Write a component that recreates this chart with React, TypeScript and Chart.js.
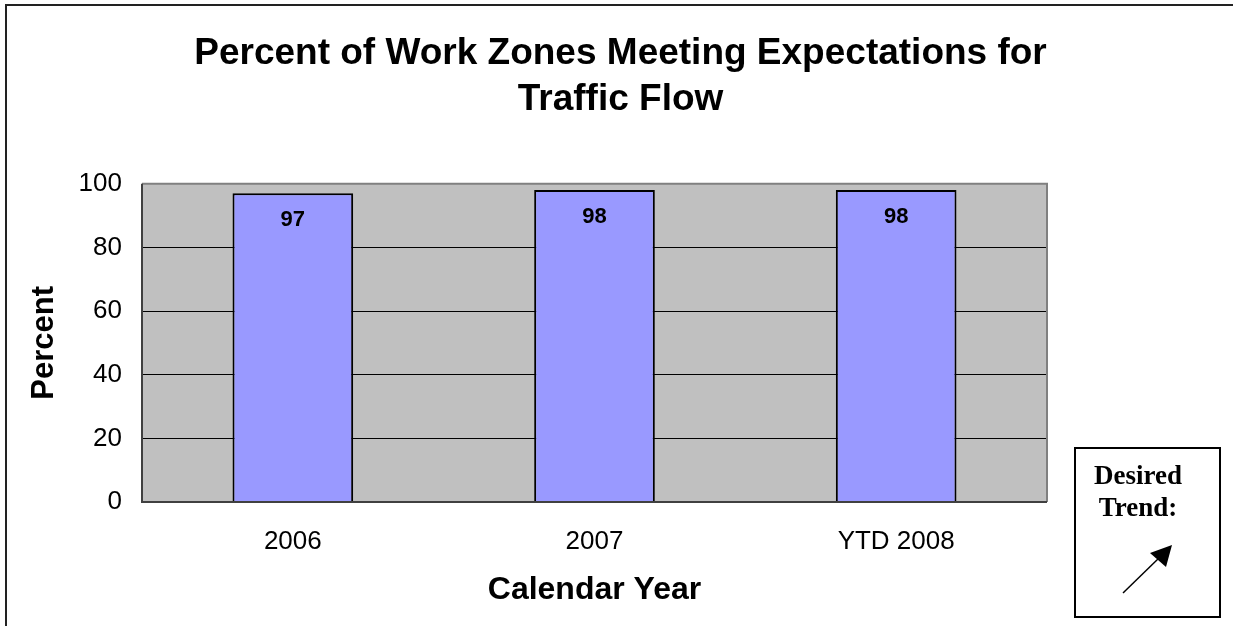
import React, { useEffect, useRef } from "react";
import { Chart, registerables } from "chart.js";

Chart.register(...registerables);

const titleLines = ["Percent of Work Zones Meeting Expectations for", "Traffic Flow"];
const categories = ["2006", "2007", "YTD 2008"];
const values = [97, 98, 98];
const yMin = 0;
const yMax = 100;
const yStep = 20;
const xAxisTitle = "Calendar Year";
const yAxisTitle = "Percent";
const trendLines = ["Desired", "Trend:"];

const W = 1233;
const H = 626;
const SANS = "'Liberation Sans', Arial, sans-serif";

const decorPlugin = {
  id: "decor",
  beforeDraw(chart: any) {
    const { ctx, chartArea } = chart;
    ctx.save();
    ctx.fillStyle = "#C0C0C0";
    ctx.fillRect(chartArea.left, chartArea.top, chartArea.right - chartArea.left, chartArea.bottom - chartArea.top);
    ctx.restore();
  },
  afterDatasetsDraw(chart: any) {
    const { ctx, chartArea } = chart;
    const { left, right, top, bottom } = chartArea;
    ctx.save();
    // plot border
    ctx.strokeStyle = "#808080";
    ctx.lineWidth = 2;
    ctx.beginPath();
    ctx.moveTo(left, top);
    ctx.lineTo(right, top);
    ctx.lineTo(right, bottom);
    ctx.stroke();
    ctx.strokeStyle = "#404040";
    ctx.beginPath();
    ctx.moveTo(left, top);
    ctx.lineTo(left, bottom);
    ctx.lineTo(right, bottom);
    ctx.stroke();

    // value labels
    const meta = chart.getDatasetMeta(0);
    ctx.fillStyle = "#000";
    ctx.font = "bold 22px " + SANS;
    ctx.textAlign = "center";
    ctx.textBaseline = "middle";
    meta.data.forEach((bar: any, i: number) => {
      ctx.fillText(String(values[i]), bar.x, bar.y + 27);
    });
    ctx.restore();
  },
  afterDraw(chart: any) {
    const { ctx } = chart;
    ctx.save();
    // outer border (top and left visible)
    ctx.strokeStyle = "#222";
    ctx.lineWidth = 2;
    ctx.beginPath();
    ctx.moveTo(W, 5);
    ctx.lineTo(6, 5);
    ctx.lineTo(6, H);
    ctx.stroke();

    // desired trend box
    ctx.strokeStyle = "#000";
    ctx.lineWidth = 2;
    ctx.strokeRect(1075, 448, 145, 169);
    ctx.fillStyle = "#000";
    ctx.font = "bold 27px 'Liberation Serif', 'Times New Roman', serif";
    ctx.textAlign = "center";
    ctx.textBaseline = "alphabetic";
    ctx.fillText(trendLines[0], 1138, 484);
    ctx.fillText(trendLines[1], 1138, 516);

    // arrow
    ctx.lineWidth = 1.5;
    ctx.beginPath();
    ctx.moveTo(1123, 593);
    ctx.lineTo(1160, 557);
    ctx.stroke();
    ctx.beginPath();
    ctx.moveTo(1172, 545);
    ctx.lineTo(1150, 553);
    ctx.lineTo(1166, 567);
    ctx.closePath();
    ctx.fill();
    ctx.restore();
  },
};

export default function App() {
  const canvasRef = useRef<HTMLCanvasElement | null>(null);

  useEffect(() => {
    const canvas = canvasRef.current;
    if (!canvas) return;
    const chart = new Chart(canvas, {
      type: "bar",
      data: {
        labels: categories,
        datasets: [
          {
            data: values,
            backgroundColor: "#9999FF",
            borderColor: "#000000",
            borderWidth: 2,
            barPercentage: 0.4,
            categoryPercentage: 1,
            yAxisID: "y",
          },
        ],
      },
      plugins: [decorPlugin],
      options: {
        responsive: false,
        animation: false,
        devicePixelRatio: 1,
        layout: { padding: { left: 8, right: 0, top: 0, bottom: 0 } },
        plugins: {
          legend: { display: false },
          tooltip: { enabled: false },
          title: {
            display: true,
            text: titleLines,
            color: "#000",
            font: { family: SANS, size: 37, weight: "bold", lineHeight: 1.24 },
            padding: { top: 31, bottom: 61 },
          },
        },
        scales: {
          x: {
            grid: { display: false, drawTicks: false },
            border: { display: false },
            ticks: {
              color: "#000",
              padding: 24,
              font: { family: SANS, size: 26 },
              maxRotation: 0,
            },
            title: {
              display: true,
              text: xAxisTitle,
              color: "#000",
              font: { family: SANS, size: 32, weight: "bold", lineHeight: 1.2 },
              padding: { top: 0, bottom: 17 },
            },
            afterFit(scale: any) {
              scale.height = 124;
            },
          },
          y: {
            min: yMin,
            max: yMax,
            grid: {
              drawTicks: false,
              lineWidth: 1,
              color: (c: any) => (c.tick && (c.tick.value === yMin || c.tick.value === yMax) ? "rgba(0,0,0,0)" : "#000"),
            },
            border: { display: false },
            ticks: {
              stepSize: yStep,
              color: "#000",
              padding: 20,
              font: { family: SANS, size: 26 },
            },
            title: {
              display: true,
              text: yAxisTitle,
              color: "#000",
              font: { family: SANS, size: 31, weight: "bold", lineHeight: 1.2 },
              padding: { top: 18, bottom: 0 },
            },
            afterFit(scale: any) {
              scale.width = 134;
            },
          },
          yRight: {
            type: "linear",
            position: "right",
            display: true,
            grid: { display: false, drawTicks: false },
            border: { display: false },
            ticks: { display: false },
            afterFit(scale: any) {
              scale.width = 186;
            },
          },
        },
      },
    });
    return () => chart.destroy();
  }, []);

  return (
    <div style={{ position: "absolute", left: 0, top: 0, width: W, height: H, background: "#fff" }}>
      <canvas ref={canvasRef} width={W} height={H} style={{ display: "block", width: W, height: H }} />
    </div>
  );
}
